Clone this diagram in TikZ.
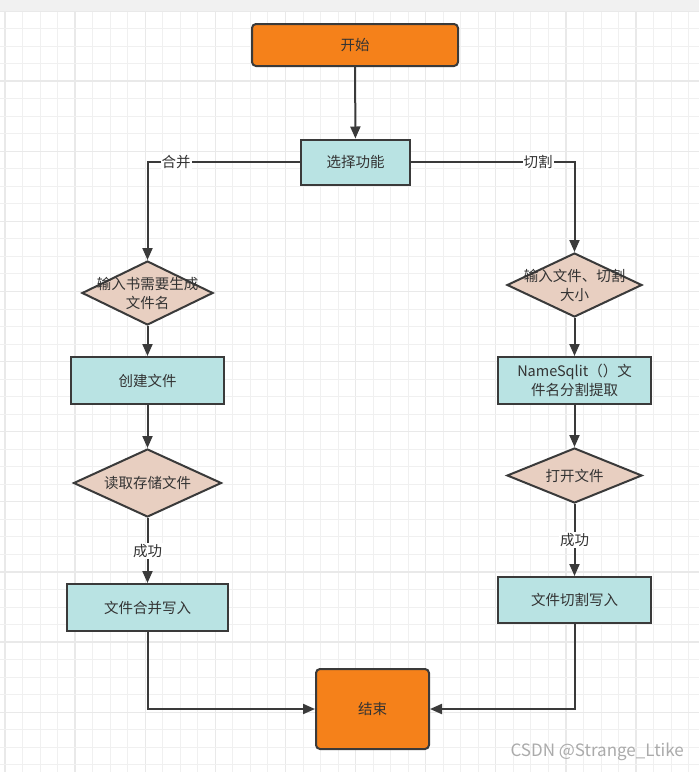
\documentclass[tikz,border=0pt]{standalone}
\usepackage{fontspec}
\setmainfont{Noto Sans CJK SC}
\usetikzlibrary{shapes.geometric,arrows.meta}
\definecolor{orangeF}{HTML}{F5811A}
\definecolor{cyanF}{HTML}{B9E3E3}
\definecolor{peachF}{HTML}{E8CFC1}
\definecolor{edgeC}{HTML}{3A3A3A}
\definecolor{txtC}{HTML}{333333}
\definecolor{gridMinor}{HTML}{F0F0F0}
\definecolor{gridMajor}{HTML}{E9E9E9}
\definecolor{barC}{HTML}{F1F1F1}
\definecolor{wmC}{HTML}{ABABAB}
\tikzset{
  txt/.style={font=\fontsize{14.5}{19}\selectfont, text=txtC, align=center},
  terminal/.style={draw=edgeC, line width=2pt, fill=orangeF, rounded corners=4pt, inner sep=0pt, txt},
  procbox/.style={draw=edgeC, line width=2pt, fill=cyanF, inner sep=0pt, txt},
  decision/.style={diamond, draw=edgeC, line width=2pt, fill=peachF, inner sep=0pt, aspect=2},
  conn/.style={draw=edgeC, line width=2pt, -{Triangle[length=12pt,width=10pt]}},
  lbl/.style={txt, fill=white, inner sep=1pt},
}
\begin{document}
\begin{tikzpicture}[x=1pt,y=-1pt]
\fill[white] (0,0) rectangle (699,772);
\useasboundingbox (0,0) rectangle (699,772);
% grid
\foreach \i in {0,...,39} {
  \pgfmathtruncatemacro{\m}{mod(\i,4)}
  \ifnum\m=0
    \draw[gridMajor, line width=1.3pt] ({5+17.53*\i},11) -- ({5+17.53*\i},772);
  \else
    \draw[gridMinor, line width=1pt] ({5+17.53*\i},11) -- ({5+17.53*\i},772);
  \fi
}
\foreach \j in {0,...,43} {
  \pgfmathtruncatemacro{\m}{mod(\j,4)}
  \ifnum\m=0
    \draw[gridMajor, line width=1.3pt] (0,{11+17.53*\j}) -- (699,{11+17.53*\j});
  \else
    \draw[gridMinor, line width=1pt] (0,{11+17.53*\j}) -- (699,{11+17.53*\j});
  \fi
}
\fill[barC] (0,0) rectangle (699,11);

% nodes
\node[terminal, minimum width=206pt, minimum height=42pt] (start) at (355,45) {开始};
\node[procbox, minimum width=109pt, minimum height=45pt] (select) at (355.5,162) {选择功能};

\node[decision, minimum width=131pt, minimum height=64pt] (d1) at (147.5,293) {};
\node[txt] (d1t) at (d1.center) {输入书需要生成\\文件名};
\node[procbox, minimum width=153pt, minimum height=47pt] (create) at (147.5,380.5) {创建文件};
\node[decision, minimum width=148pt, minimum height=68pt] (d3) at (147.5,483) {};
\node[txt] (d3t) at (d3.center) {读取存储文件};
\node[procbox, minimum width=161pt, minimum height=47pt] (merge) at (147.5,607.5) {文件合并写入};

\node[decision, minimum width=135pt, minimum height=64pt] (d2) at (574.5,285) {};
\node[txt] (d2t) at (d2.center) {输入文件、切割\\大小};
\node[procbox, minimum width=153pt, minimum height=47pt] (split) at (574.5,380.5) {NameSqlit（）文\\件名分割提取};
\node[decision, minimum width=135pt, minimum height=55pt] (d4) at (574.5,475.5) {};
\node[txt] (d4t) at (d4.center) {打开文件};
\node[procbox, minimum width=153pt, minimum height=46pt] (cutw) at (574.5,600) {文件切割写入};

\node[terminal, minimum width=113pt, minimum height=80pt] (finish) at (372.5,709) {结束};

% connectors
\draw[conn] (start) -- (select);
\draw[conn] (select.west) -| (d1.north);
\node[lbl] (lmerge) at (176,162) {合并};
\draw[conn] (select.east) -| (d2.north);
\node[lbl] (lcut) at (538,162) {切割};

\draw[conn] (d1) -- (create);
\draw[conn] (create) -- (d3);
\draw[conn] (d3) -- (merge);
\node[lbl] (lok1) at (147.5,551) {成功};

\draw[conn] (d2) -- (split);
\draw[conn] (split) -- (d4);
\draw[conn] (d4) -- (cutw);
\node[lbl] (lok2) at (574.5,540) {成功};

\draw[conn] (merge.south) |- (finish.west);
\draw[conn] (cutw.south) |- (finish.east);

% watermark
\node[font=\fontsize{17}{19}\selectfont, text=wmC, anchor=east, inner sep=0pt] (wm) at (684,752) {CSDN @Strange\_Ltike};
\end{tikzpicture}
\end{document}
